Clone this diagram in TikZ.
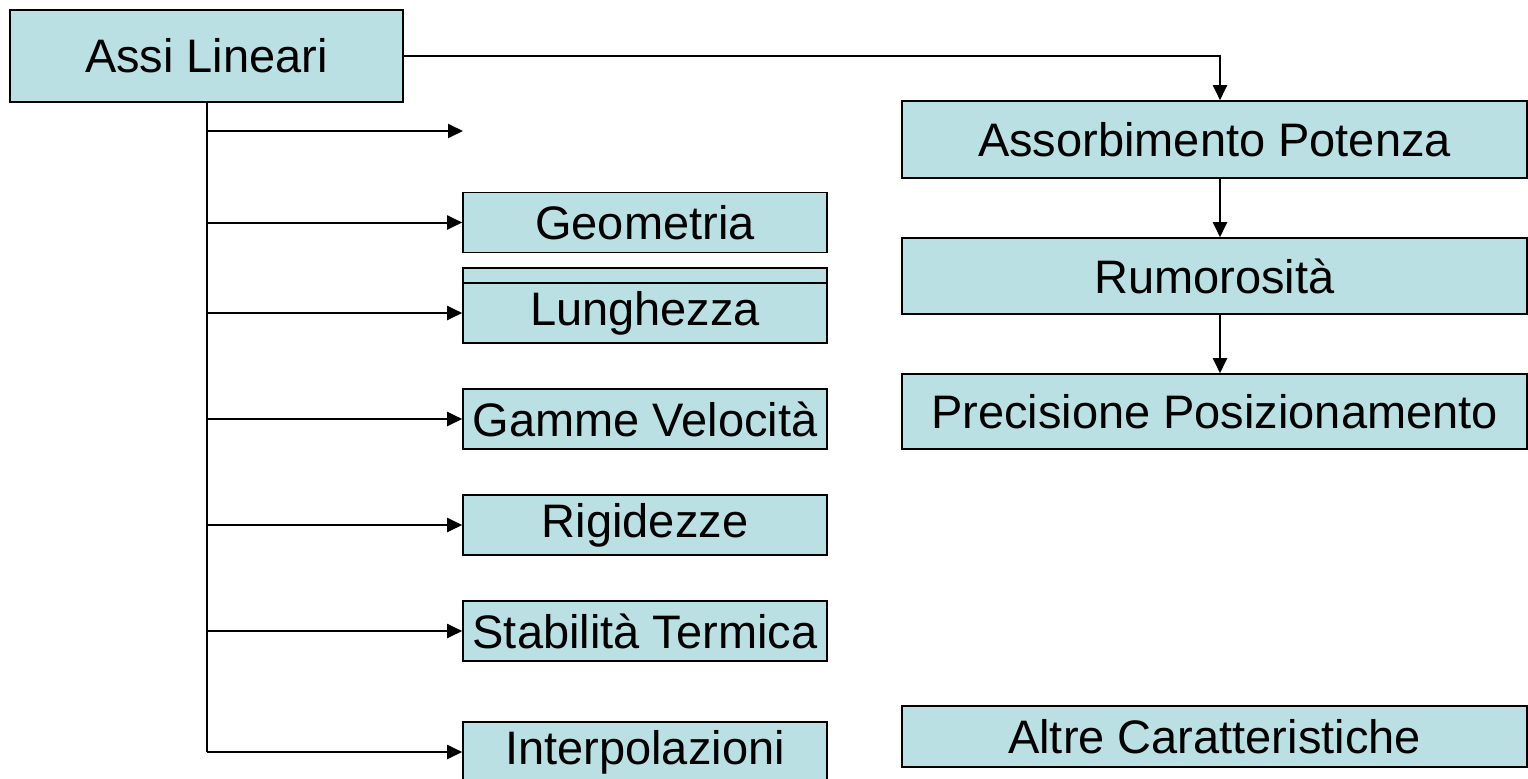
\documentclass[tikz,border=0pt]{standalone}
\usepackage{fontspec}
\setmainfont{Liberation Sans}
\usetikzlibrary{arrows.meta,calc}
\definecolor{boxfill}{HTML}{BBE0E3}
\tikzset{
  box/.style={draw=black, line width=0.8pt, fill=boxfill, inner sep=0pt, align=center,
    font=\fontsize{23.5}{28}\selectfont},
  leftbox/.style={box, minimum width=182pt, minimum height=30pt},
  rightbox/.style={box, minimum width=312.5pt},
  conn/.style={draw=black, line width=1pt},
  arr/.style={conn, -{Triangle[length=7.5pt,width=7pt]}}
}
\begin{document}
\begin{tikzpicture}[x=0.5pt,y=-0.5pt]
\useasboundingbox (0,0) rectangle (1528,778);
% top node
\node[box, minimum width=196.5pt, minimum height=46pt] (assi) at (206.5,56) {Assi Lineari};
% right column
\node[rightbox, minimum height=38.5pt] (asso) at (1214.5,139.5) {Assorbimento Potenza};
\node[rightbox, minimum height=38pt] (rumo) at (1214.5,276) {Rumorosità};
\node[rightbox, minimum height=37.5pt] (prec) at (1214.5,411.5) {Precisione Posizionamento};
\node[rightbox, minimum height=30.5pt] (altre) at (1214.5,736.5) {Altre Caratteristiche};
% left column
\node[leftbox] (geom) at (645,222.5) {Geometria};
\node[leftbox] (hidden) at (645,298) {};
\node[leftbox] (lung) at (645,313) {Lunghezza};
\node[leftbox] (gamme) at (645,419) {Gamme Velocità};
\node[leftbox] (rigi) at (645,525) {Rigidezze};
\node[leftbox] (stab) at (645,631) {Stabilità Termica};
\node[leftbox] (inter) at (645,752) {Interpolazioni};
% trunk
\coordinate (trunktop) at (207,102);
\coordinate (trunkbot) at (207,752);
\coordinate (free) at (463,131);
\draw[conn] (trunktop) -- (trunkbot);
\draw[arr] (trunktop |- free) -- (free);
\draw[arr] (trunktop |- geom.west) -- (geom.west);
\draw[arr] (trunktop |- lung.west) -- (lung.west);
\draw[arr] (trunktop |- gamme.west) -- (gamme.west);
\draw[arr] (trunktop |- rigi.west) -- (rigi.west);
\draw[arr] (trunktop |- stab.west) -- (stab.west);
\draw[arr] (trunkbot) -- (inter.west);
% right connectors
\draw[arr] (assi.east) -| ([xshift=2.75pt]asso.north);
\draw[arr] ([xshift=2.75pt]asso.south) -- ([xshift=2.75pt]rumo.north);
\draw[arr] ([xshift=2.75pt]rumo.south) -- ([xshift=2.75pt]prec.north);
\end{tikzpicture}
\end{document}
